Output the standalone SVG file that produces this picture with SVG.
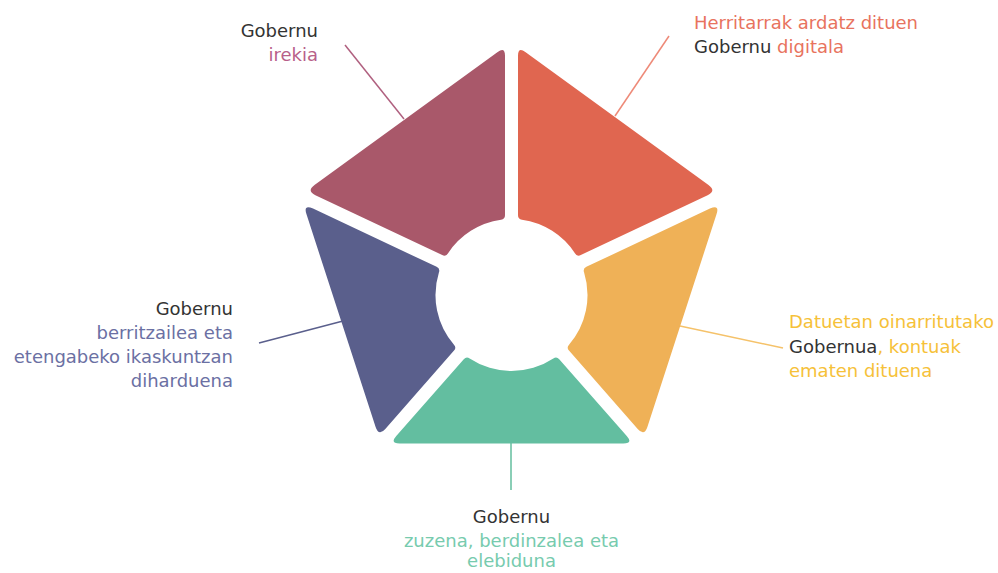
<svg xmlns="http://www.w3.org/2000/svg" width="998" height="573" viewBox="0 0 998 573">
<style>
text{font-family:"DejaVu Sans","Liberation Sans",sans-serif;font-size:18px;}
.dk{fill:#333333;}
.conn{fill:none;stroke-width:1.5;}
</style>
<rect width="998" height="573" fill="#ffffff"/>
<g id="connectors">
<line class="conn" x1="345" y1="45" x2="404" y2="119" stroke="#B0607F"/>
<line class="conn" x1="669" y1="36" x2="615" y2="116" stroke="#EE8A78"/>
<line class="conn" x1="680" y1="326" x2="783" y2="348" stroke="#F5C26A"/>
<line class="conn" x1="259" y1="343" x2="343" y2="321" stroke="#5A5F8C"/>
<line class="conn" x1="511" y1="443" x2="511" y2="490" stroke="#63BE9E"/>
</g>
<g id="seg-open">
<path fill="#A9586A" d="M 505,55.7 Q 505,46.7 497.7,52.0 L 314.5,185.1 Q 306.4,191.0 315.4,195.3 L 442.2,255.1 Q 445.8,256.8 447.9,253.4 A 76 76 0 0 1 501.05,219.72 Q 505,219.3 505,215.3 Z"/>
<text x="318" y="37" text-anchor="end" class="dk">Gobernu</text>
<text x="318" y="61" text-anchor="end" fill="#B85F8A">irekia</text>
</g>
<g id="seg-digital">
<path fill="#E06650" d="M 518,55.7 Q 518,46.7 525.3,52.0 L 708.5,185.1 Q 716.6,191.0 707.6,195.3 L 580.8,255.1 Q 577.2,256.8 575.1,253.4 A 76 76 0 0 0 521.95,219.72 Q 518,219.3 518,215.3 Z"/>
<text x="694" y="29" fill="#E8735E">Herritarrak ardatz dituen</text>
<text x="694" y="53"><tspan class="dk">Gobernu</tspan><tspan fill="#E8735E"> digitala</tspan></text>
</g>
<g id="seg-data">
<path fill="#EFB157" d="M 586.37,266.86 L 709.95,208.59 Q 719.9,203.9 716.5,214.36 L 647.39,426.89 Q 644.3,436.4 637.7,428.88 L 568.98,350.61 Q 566.34,347.6 569.03,344.66 A 76 76 0 0 0 584.04,272.34 Q 582.75,268.57 586.37,266.86 Z"/>
<text x="789" y="328" fill="#F6C139">Datuetan oinarritutako</text>
<text x="789" y="353"><tspan class="dk">Gobernua</tspan><tspan fill="#F6C139">, kontuak</tspan></text>
<text x="789" y="377" fill="#F6C139">ematen dituena</text>
</g>
<g id="seg-fair">
<path fill="#63BEA0" d="M 559.22,359.19 L 626.75,436.09 Q 633.35,443.6 623.35,443.6 L 399.65,443.6 Q 389.65,443.6 396.25,436.09 L 463.78,359.19 Q 466.42,356.18 469.67,358.45 A 76 76 0 0 0 553.33,358.45 Q 556.58,356.18 559.22,359.19 Z"/>
<text x="511.5" y="523" text-anchor="middle" class="dk">Gobernu</text>
<text x="511.5" y="547" text-anchor="middle" fill="#77CBAE">zuzena, berdinzalea eta</text>
<text x="511.5" y="567" text-anchor="middle" fill="#77CBAE">elebiduna</text>
</g>
<g id="seg-innovative">
<path fill="#5A5F8C" d="M 436.63,266.86 L 313.05,208.59 Q 303.1,203.9 306.5,214.36 L 375.61,426.89 Q 378.7,436.4 385.3,428.88 L 454.02,350.61 Q 456.66,347.6 453.97,344.66 A 76 76 0 0 1 438.96,272.34 Q 440.25,268.57 436.63,266.86 Z"/>
<text x="233" y="315" text-anchor="end" class="dk">Gobernu</text>
<text x="233" y="339" text-anchor="end" fill="#6B70A3">berritzailea eta</text>
<text x="233" y="363" text-anchor="end" fill="#6B70A3">etengabeko ikaskuntzan</text>
<text x="233" y="387" text-anchor="end" fill="#6B70A3">diharduena</text>
</g>
</svg>
